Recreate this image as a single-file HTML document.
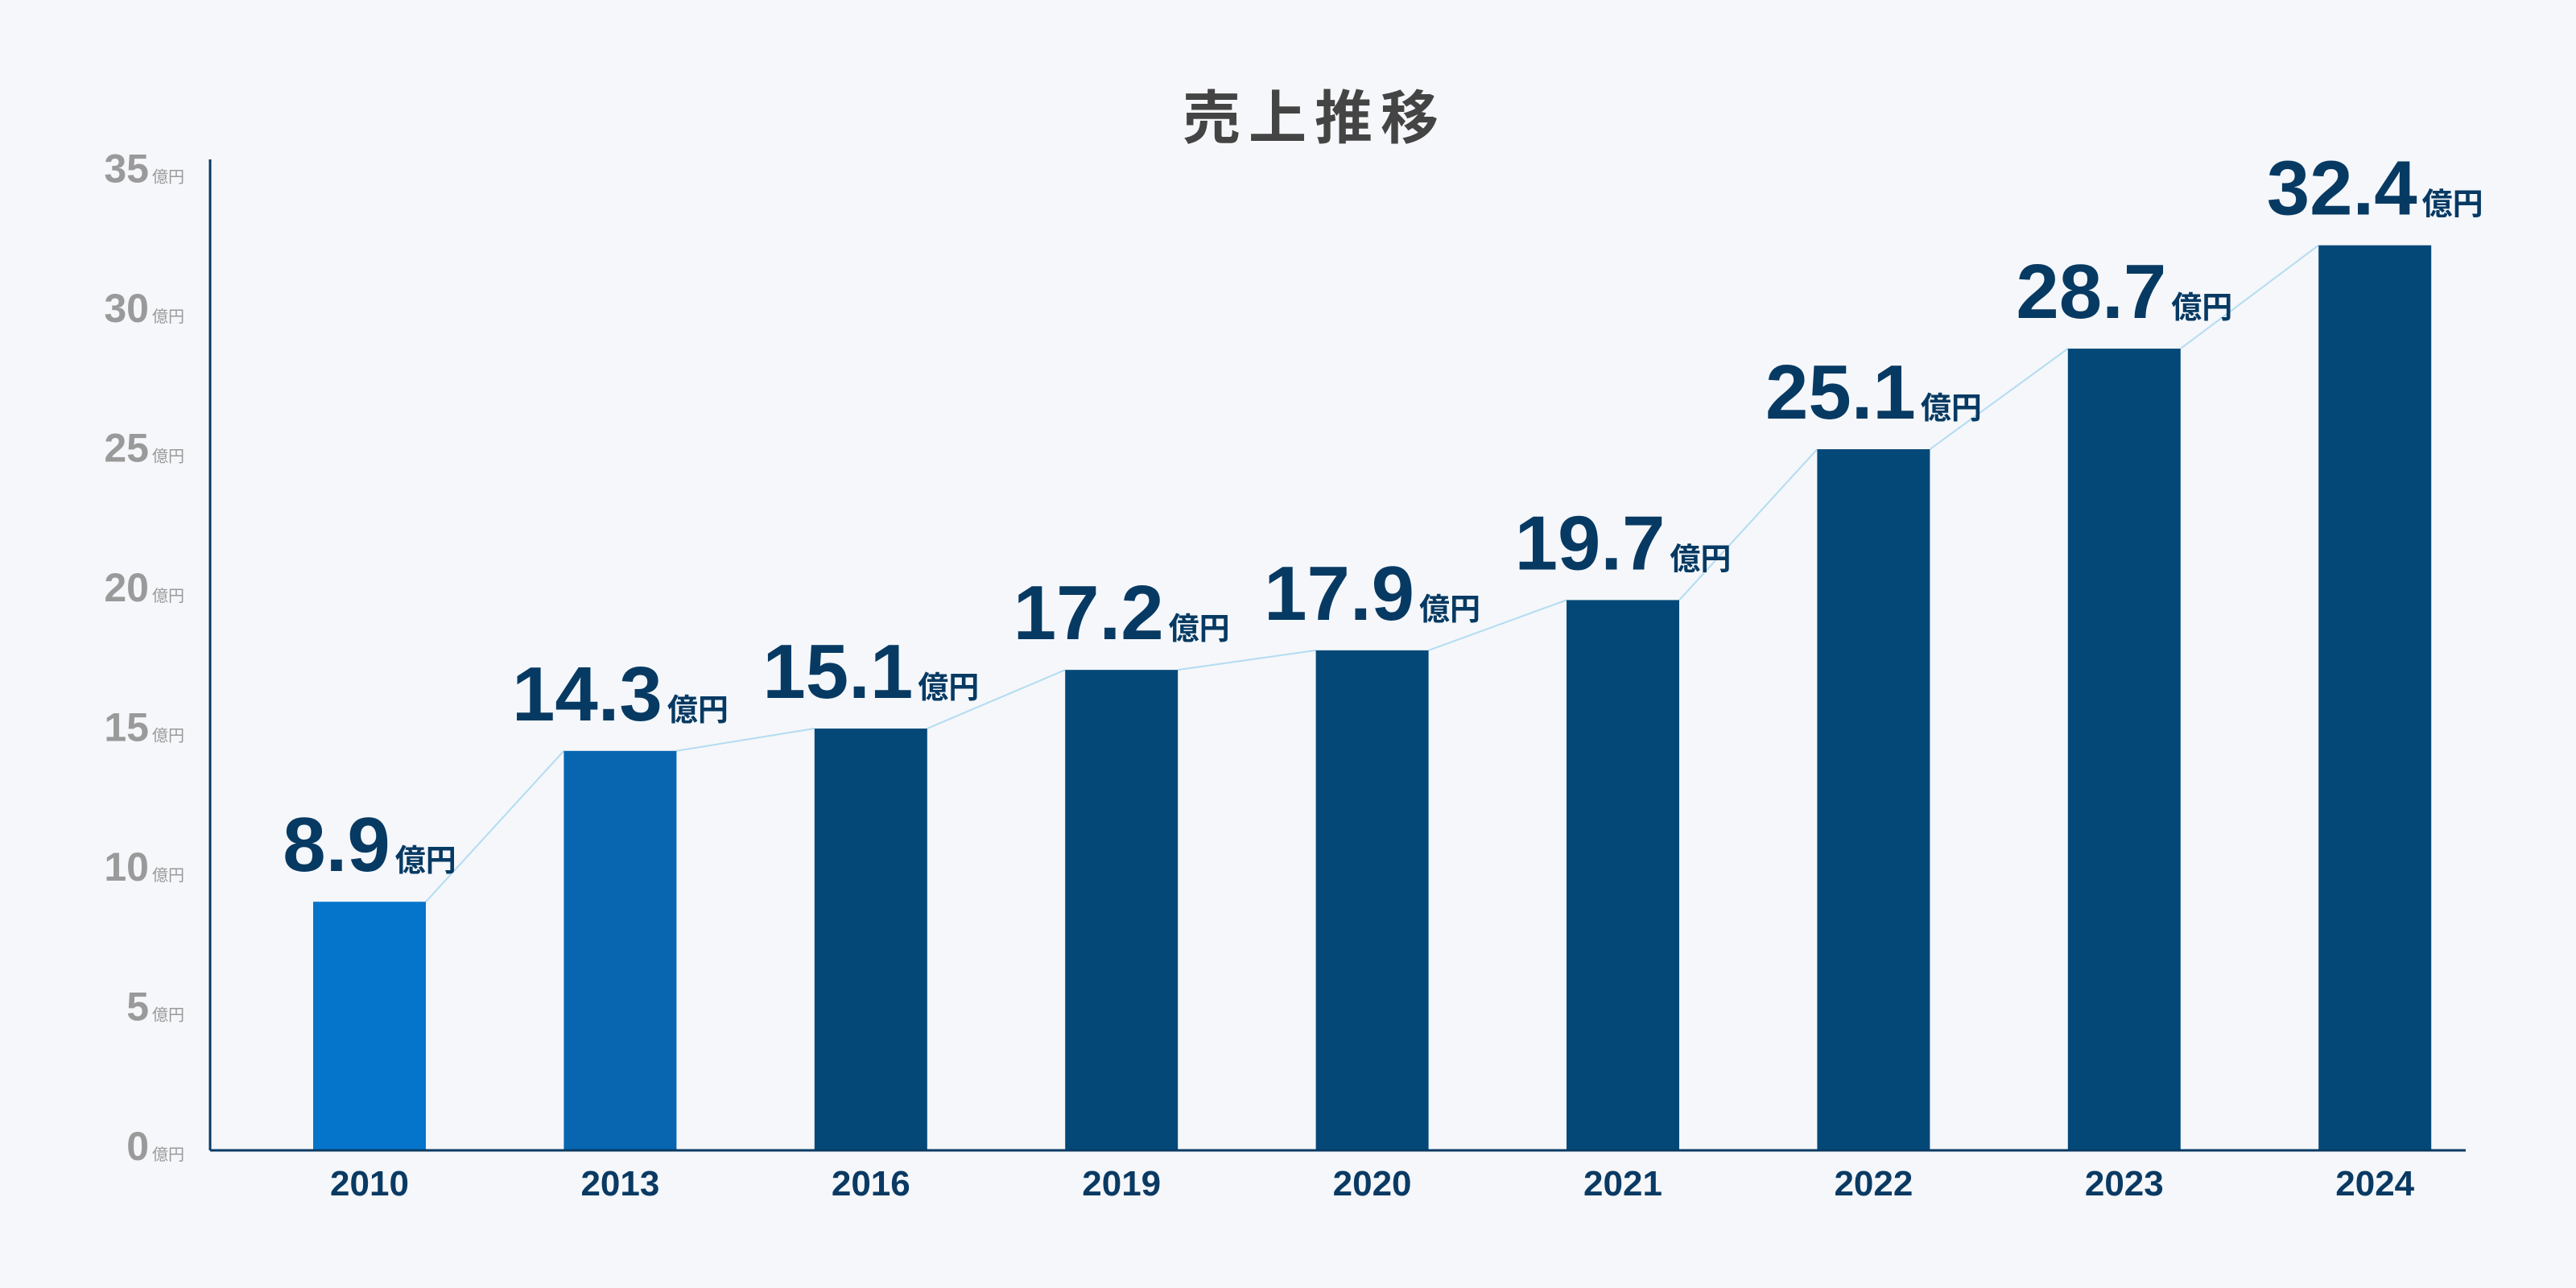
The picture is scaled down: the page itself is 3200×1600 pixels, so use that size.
<!DOCTYPE html>
<html><head><meta charset="utf-8"><style>
html,body{margin:0;padding:0;background:#f5f7fa;}
svg{display:block;}
text{font-family:"Liberation Sans","Noto Sans CJK JP",sans-serif;}
</style></head><body>
<svg id="chart" width="3200" height="1600" viewBox="0 0 3200 1600" xmlns="http://www.w3.org/2000/svg">
<rect width="3200" height="1600" fill="#f5f7fa"/>
<text x="1633" y="172" text-anchor="middle" font-size="72" font-weight="bold" fill="#444" letter-spacing="10">売上推移</text>
<g id="yaxis"></g>
<g id="line"></g>
<g id="bars"></g>
<g id="labels"></g>
<g id="xaxis"></g>
</svg>
<script>
const categories=["2010","2013","2016","2019","2020","2021","2022","2023","2024"];
const values=[8.9,14.3,15.1,17.2,17.9,19.7,25.1,28.7,32.4];
const yTicks=[0,5,10,15,20,25,30,35];
const barColors=["#0575cc","#0866b0","#044878","#044878","#044878","#044878","#044878","#044878","#044878"];

const NS="http://www.w3.org/2000/svg";
const x0=261,x1=3063,base=1429,unit=34.7,firstC=459,step=311.4,bw=140;
const y=v=>base-v*unit;
const xc=i=>firstC+i*step;
function mk(tag,attrs,parent){const e=document.createElementNS(NS,tag);for(const k in attrs)e.setAttribute(k,attrs[k]);parent.appendChild(e);return e;}
const gy=document.getElementById('yaxis'),gx=document.getElementById('xaxis'),gb=document.getElementById('bars'),gl=document.getElementById('labels'),gn=document.getElementById('line');

const ya=mk('line',{x1:x0,y1:198,x2:x0,y2:base,stroke:'#0a3a63','stroke-width':3},gy);


const xa=mk('line',{x1:x0,y1:base,x2:x1,y2:base,stroke:'#0a3a63','stroke-width':3},gx);



yTicks.forEach(t=>{
  const tx=mk('text',{x:229,y:y(t)+12,'text-anchor':'end',fill:'#9a9a9a'},gy);
  
  
  const a=mk('tspan',{'font-size':50,'font-weight':'bold'},tx);a.textContent=t;
  const b=mk('tspan',{'font-size':20,dx:4},tx);b.textContent='億円';
});

for(let i=0;i<values.length-1;i++){
  const l=mk('line',{x1:xc(i)+bw/2,y1:y(values[i]),x2:xc(i+1)-bw/2,y2:y(values[i+1]),stroke:'#b3dcf2','stroke-width':2},gn);
  
  
}

values.forEach((v,i)=>{
  const r=mk('rect',{x:xc(i)-bw/2,y:y(v),width:bw,height:base-y(v),fill:barColors[i]},gb);
  
  
  const t=mk('text',{x:xc(i),y:y(v)-38,'text-anchor':'middle',fill:'#073a63','font-weight':'bold'},gl);
  
  
  const a=mk('tspan',{'font-size':96},t);a.textContent=v.toFixed(1);
  const b=mk('tspan',{'font-size':38,dx:6},t);b.textContent='億円';
  const c=mk('text',{x:xc(i),y:1485,'text-anchor':'middle','font-size':44,'font-weight':'bold',fill:'#0a3a63'},gx);
  
  
  c.textContent=categories[i];
});
</script>
</body></html>
